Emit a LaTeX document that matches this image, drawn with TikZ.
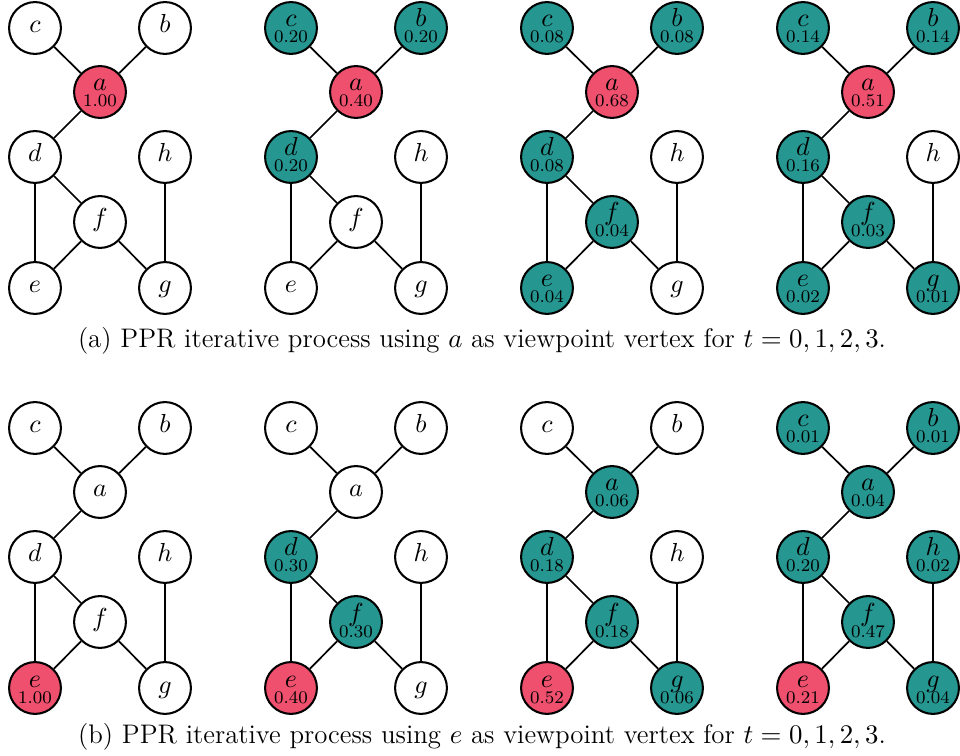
\RequirePackage{fix-cm}
\documentclass[tikz,border=0pt]{standalone}
\definecolor{pprred}{RGB}{239,80,110}
\definecolor{pprteal}{RGB}{38,150,145}
\tikzset{
  vbase/.style={circle, draw=black, line width=0.9pt, minimum size=22.7pt, inner sep=0pt},
  vw/.style={vbase, fill=white},
  vr/.style={vbase, fill=pprred},
  vt/.style={vbase, fill=pprteal},
  edge/.style={draw=black, line width=0.75pt},
  vname/.style={anchor=base, inner sep=0pt, font=\fontsize{11.4}{13}\selectfont},
  vval/.style={anchor=base, inner sep=0pt, font=\fontsize{7.8}{9}\selectfont},
  capt/.style={anchor=base, inner sep=0pt, font=\fontsize{11.75}{14}\selectfont},
}
% one vertex: name, x, y, state (w = plain, rX.XX = viewpoint, tX.XX = reached)
\def\vtxaux#1#2#3#4#5\relax{%
  \node[v#4] (#1) at (#2,#3) {};
  \def\vtxval{#5}%
  \ifx\vtxval\empty
    \node[vname] (#1-n) at (#2,#3+5) {$#1$};
  \else
    \node[vname] (#1-n) at (#2,#3-1) {$#1$};
    \node[vval] (#1-v) at (#2,#3+15) {#5};
  \fi}
\newcommand\vtx[4]{\vtxaux{#1}{#2}{#3}#4\relax}
% the eight-vertex graph with the states of c, b, a, d, h, f, e, g
\newcommand\pprgraph[8]{%
  \vtx{c}{35}{28}{#1}
  \vtx{b}{165}{28}{#2}
  \vtx{a}{100}{92}{#3}
  \vtx{d}{35}{157}{#4}
  \vtx{h}{165}{157}{#5}
  \vtx{f}{100}{222}{#6}
  \vtx{e}{35}{288}{#7}
  \vtx{g}{165}{288}{#8}
  \draw[edge] (c) -- (a) (b) -- (a) (a) -- (d) (d) -- (f)
              (d) -- (e) (f) -- (e) (f) -- (g) (h) -- (g);
}
\begin{document}
\begin{tikzpicture}[x=0.4377pt, y=-0.4377pt]
\useasboundingbox (0,0) rectangle (960,756);
% row (a): viewpoint a
\begin{scope}[name prefix=a0-]
  \pprgraph{w}{w}{r1.00}{w}{w}{w}{w}{w}
\end{scope}
\begin{scope}[shift={(256,0)}, name prefix=a1-]
  \pprgraph{t0.20}{t0.20}{r0.40}{t0.20}{w}{w}{w}{w}
\end{scope}
\begin{scope}[shift={(512,0)}, name prefix=a2-]
  \pprgraph{t0.08}{t0.08}{r0.68}{t0.08}{w}{t0.04}{t0.04}{w}
\end{scope}
\begin{scope}[shift={(768,0)}, name prefix=a3-]
  \pprgraph{t0.14}{t0.14}{r0.51}{t0.16}{w}{t0.03}{t0.02}{t0.01}
\end{scope}
\node[capt] (capA) at (482,348) {(a) PPR iterative process using $a$ as viewpoint vertex for $t=0,1,2,3$.};
% row (b): viewpoint e
\begin{scope}[shift={(0,400)}, name prefix=e0-]
  \pprgraph{w}{w}{w}{w}{w}{w}{r1.00}{w}
\end{scope}
\begin{scope}[shift={(256,400)}, name prefix=e1-]
  \pprgraph{w}{w}{w}{t0.30}{w}{t0.30}{r0.40}{w}
\end{scope}
\begin{scope}[shift={(512,400)}, name prefix=e2-]
  \pprgraph{w}{w}{t0.06}{t0.18}{w}{t0.18}{r0.52}{t0.06}
\end{scope}
\begin{scope}[shift={(768,400)}, name prefix=e3-]
  \pprgraph{t0.01}{t0.01}{t0.04}{t0.20}{t0.02}{t0.47}{r0.21}{t0.04}
\end{scope}
\node[capt] (capB) at (482,743) {(b) PPR iterative process using $e$ as viewpoint vertex for $t=0,1,2,3$.};
\end{tikzpicture}
\end{document}
